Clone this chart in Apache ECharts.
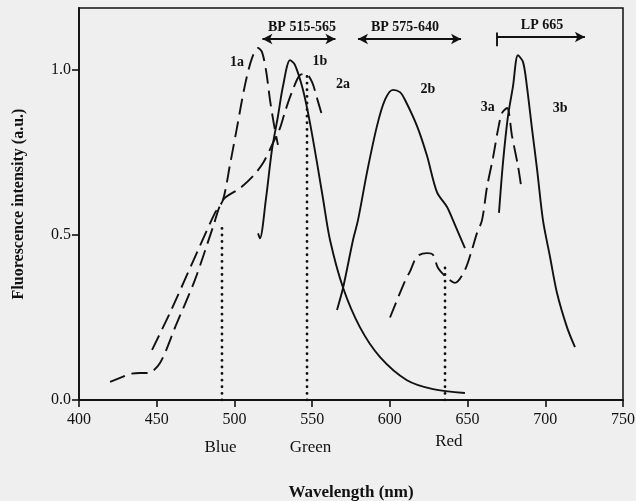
<!DOCTYPE html>
<html><head><meta charset="utf-8">
<script src="https://cdn.jsdelivr.net/npm/echarts@6/dist/echarts.min.js"></script>
<style>html,body{margin:0;padding:0;background:#efefef}#c{width:636px;height:501px}</style>
</head><body><div id="c"></div>
<script>
// ---- data (wavelength nm, fluorescence intensity a.u.) ----
const xTickValues = [400, 450, 500, 550, 600, 650, 700, 750];
const yTickValues = [0, 0.5, 1.0];

const s1a = [[447,0.152],[458.5,0.264],[477.8,0.467],[487.5,0.567],[492.6,0.606],[497.1,0.712],[501.7,0.827],[506.8,0.955],[511.3,1.036],[515.2,1.067],[517.7,1.055],[520.3,1.0],[522.9,0.909],[525.5,0.833],[528,0.773]];
const s2a = [[420,0.055],[426.4,0.067],[432.8,0.079],[439.2,0.082],[444.4,0.082],[452.1,0.112],[462.4,0.227],[474.6,0.364],[486.2,0.524],[492.6,0.606],[503.6,0.642],[512,0.679],[518.4,0.718],[524.2,0.773],[529.3,0.824],[532.5,0.873],[537,0.933],[542.2,0.985],[546,0.988],[549.9,0.964],[553.1,0.915],[556.3,0.864]];
const s1b = [[515.2,0.505],[516.4,0.49],[520.3,0.61],[524.2,0.76],[528,0.86],[531.2,0.95],[535.8,1.03],[539,1.015],[544.1,0.94],[548.6,0.84],[553.1,0.72],[557,0.61],[561.5,0.485],[569.9,0.34],[580.8,0.22],[593.7,0.13],[611,0.06],[627.8,0.033],[648.3,0.021]];
const s2b = [[566,0.273],[569.9,0.34],[576.3,0.485],[579.5,0.545],[585.3,0.69],[591.7,0.83],[596.9,0.91],[602,0.94],[606.5,0.933],[609.7,0.91],[617.5,0.83],[623.9,0.74],[630.3,0.63],[636.8,0.585],[640.6,0.545],[648.3,0.46]];
const s3a = [[600.1,0.25],[609.7,0.36],[613,0.39],[617.5,0.435],[623.9,0.445],[627.8,0.44],[631,0.40],[636.8,0.37],[641.9,0.355],[648.3,0.394],[652.8,0.455],[656,0.505],[659.3,0.545],[662.5,0.645],[666.4,0.735],[669.6,0.82],[672.2,0.87],[675.4,0.885],[678.6,0.80],[682.4,0.71],[684.4,0.65]];
const s3b = [[670.2,0.567],[672.8,0.72],[676,0.86],[679.2,0.95],[682.4,1.045],[685.7,1.024],[688.2,0.95],[691.5,0.82],[694.7,0.70],[698.5,0.545],[703,0.435],[707.5,0.325],[714,0.22],[719.1,0.16]];

const cutBlue = [[492,0],[492,0.53]];
const cutGreen = [[546.7,0],[546.7,0.99]];
const cutRed = [[635.5,0],[635.5,0.415]];

const curveNames = ['1a','1b','2a','2b','3a','3b'];
const curveLabelPos = [[501.7,1.024],[555,1.027],[569.8,0.955],[624.5,0.94],[663,0.888],[709.5,0.885]];

const bandNames = ['BP 515-565','BP 575-640','LP 665'];
const bandTextPos = [[543.5,1.13],[609.7,1.13],[697.9,1.136]];
const bandArrows = [[518,565,1.094],[579.5,645.8,1.094],[669,725.5,1.1]];

const colorNames = ['Blue','Green','Red'];
const colorTextPos = [[491,-0.145],[549,-0.145],[638,-0.127]];

// ---- chart ----
const ink = '#111111';
const serif = '"Liberation Serif","DejaVu Serif",serif';
const chart = echarts.init(document.getElementById('c'), null, {renderer:'canvas'});

function curve(name, data, dashed) {
  return {name, type:'line', data, symbol:'none', smooth:0.3, silent:true, z:3,
    lineStyle:{color:ink, width:1.9, type: dashed ? [16,7] : 'solid'}};
}
function cut(data) {
  return {type:'line', data, symbol:'none', silent:true, z:2,
    lineStyle:{color:ink, width:2.8, type:[0.1,6.5], cap:'round'}};
}
function textLayer(names, pos, size, bold) {
  return {type:'scatter', silent:true, symbolSize:0, clip:false, z:5,
    itemStyle:{color:ink},
    data: names.map((n,i) => ({value:pos[i], name:n})),
    label:{show:true, position:'inside', formatter:p => p.name,
      fontFamily:serif, fontWeight: bold ? 'bold' : 'normal', fontSize:size,
      color:ink, textBorderWidth:0, opacity:1}};
}

const arrowLines = [];
bandArrows.forEach((a, i) => {
  if (i < 2) {
    arrowLines.push([{coord:[a[0],a[2]], symbol:'arrow'},{coord:[a[1],a[2]], symbol:'arrow'}]);
  } else {
    arrowLines.push([{coord:[a[0],a[2]], symbol:'none'},{coord:[a[1],a[2]], symbol:'arrow'}]);
    arrowLines.push([{coord:[a[0],a[2]-0.028], symbol:'none'},{coord:[a[0],a[2]+0.014], symbol:'none'}]);
  }
});

chart.setOption({
  animation:false,
  backgroundColor:'#efefef',
  grid:{left:79, right:13, top:8, bottom:101, containLabel:false, outerBoundsMode:'none',
    show:true, borderColor:ink, borderWidth:1.5, backgroundColor:'transparent'},
  xAxis:{type:'value', min:400, max:750, interval:50,
    name:'Wavelength (nm)', nameLocation:'middle', nameGap:84,
    nameTextStyle:{fontFamily:serif, fontWeight:'bold', fontSize:17, color:ink},
    axisLine:{lineStyle:{color:ink, width:1.8}},
    axisTick:{show:true, length:7, lineStyle:{color:ink, width:1.6}},
    axisLabel:{fontFamily:serif, fontSize:16, color:ink, margin:12},
    splitLine:{show:false}},
  yAxis:{type:'value', min:0, max:1.188, interval:0.5,
    name:'Fluorescence intensity (a.u.)', nameLocation:'middle', nameGap:52, nameRotate:90,
    nameTextStyle:{fontFamily:serif, fontWeight:'bold', fontSize:16, color:ink},
    axisLine:{lineStyle:{color:ink, width:1.8}},
    axisTick:{show:true, length:7, lineStyle:{color:ink, width:1.6}, customValues:yTickValues},
    axisLabel:{fontFamily:serif, fontSize:16, color:ink, margin:8, customValues:yTickValues,
      formatter: v => yTickValues.some(t => Math.abs(t - v) < 1e-6) ? v.toFixed(1) : ''},
    splitLine:{show:false}},
  series:[
    curve('1a', s1a, true),
    curve('2a', s2a, true),
    curve('1b', s1b, false),
    curve('2b', s2b, false),
    curve('3a', s3a, true),
    curve('3b', s3b, false),
    cut(cutBlue), cut(cutGreen), cut(cutRed),
    {type:'line', data:[], silent:true,
      markLine:{silent:true, symbolSize:[8,10], label:{show:false},
        lineStyle:{color:ink, width:1.9, type:'solid'}, data:arrowLines}},
    textLayer(curveNames, curveLabelPos, 14, true),
    textLayer(bandNames, bandTextPos, 14, true),
    textLayer(colorNames, colorTextPos, 17, false)
  ]
});
</script>
</body></html>
